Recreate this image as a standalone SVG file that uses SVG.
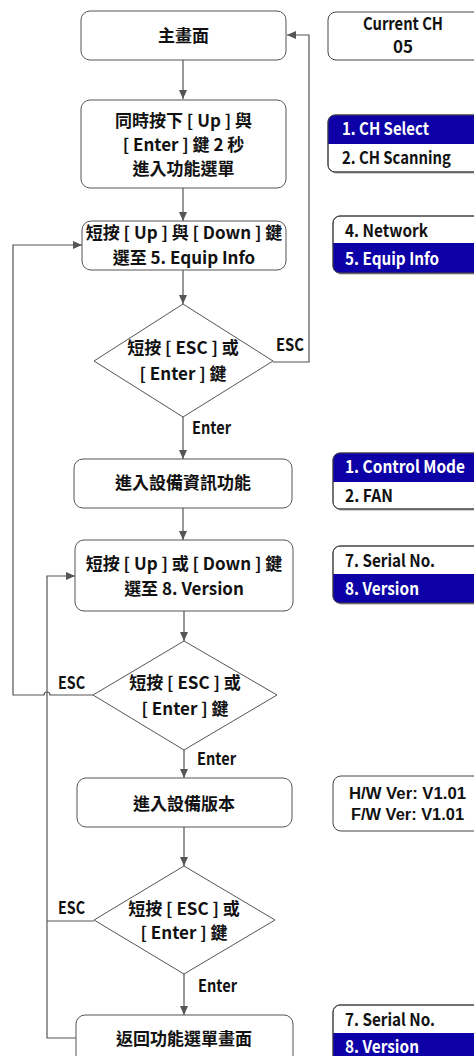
<svg xmlns="http://www.w3.org/2000/svg" width="474" height="1056" viewBox="0 0 474 1056">
<style>
.box{fill:#fff;stroke:#555;stroke-width:1}
.pan{fill:#fff;stroke:#444;stroke-width:1}
.sh{fill:#d0d0d0}
.blue{fill:#0c00a6}
.ln{fill:none;stroke:#555;stroke-width:1.2}
text{font-family:"Noto Sans CJK TC","Liberation Sans",sans-serif;font-weight:bold;font-size:17px;fill:#111}
.c{text-anchor:middle}
.w{fill:#fff}
.ls{font-family:"Liberation Sans",Arial,sans-serif;font-size:16px}
</style>
<defs>
<marker id="ah" markerWidth="10" markerHeight="8" refX="9" refY="4" orient="auto" markerUnits="userSpaceOnUse">
<path d="M0,0 L9,4 L0,8 z" fill="#555"/>
</marker>
<clipPath id="cp1"><rect x="328" y="115" width="170" height="57" rx="7"/></clipPath>
<clipPath id="cp2"><rect x="333" y="216" width="170" height="57" rx="7"/></clipPath>
<clipPath id="cp3"><rect x="333" y="453" width="170" height="56" rx="7"/></clipPath>
<clipPath id="cp4"><rect x="333" y="546" width="170" height="57" rx="7"/></clipPath>
<clipPath id="cp5"><rect x="333" y="1005" width="170" height="70" rx="7"/></clipPath>
</defs>

<g id="connectors">
<path class="ln" d="M183,60 V99" marker-end="url(#ah)"/>
<path class="ln" d="M183,188 V221" marker-end="url(#ah)"/>
<path class="ln" d="M183,270 V304" marker-end="url(#ah)"/>
<path class="ln" d="M273,362 H309 V35 H287" marker-end="url(#ah)"/>
<path class="ln" d="M183,417 V459" marker-end="url(#ah)"/>
<path class="ln" d="M183,508 V540" marker-end="url(#ah)"/>
<path class="ln" d="M184,611 V641" marker-end="url(#ah)"/>
<path class="ln" d="M93,695 H50 A3,3 0 0 0 44,695 H13 V245 H82" marker-end="url(#ah)"/>
<path class="ln" d="M184,750 V778" marker-end="url(#ah)"/>
<path class="ln" d="M184,827 V866" marker-end="url(#ah)"/>
<path class="ln" d="M184,974 V1015" marker-end="url(#ah)"/>
<path class="ln" d="M76,1038 H47 V576 H75" marker-end="url(#ah)"/>
<path class="ln" d="M94,921 H47"/>
<text x="276" y="351" textLength="28" lengthAdjust="spacingAndGlyphs">ESC</text>
<text x="192" y="434" textLength="39" lengthAdjust="spacingAndGlyphs">Enter</text>
<text x="58" y="689" textLength="27" lengthAdjust="spacingAndGlyphs">ESC</text>
<text x="197" y="765" textLength="39" lengthAdjust="spacingAndGlyphs">Enter</text>
<text x="58" y="914" textLength="27" lengthAdjust="spacingAndGlyphs">ESC</text>
<text x="198" y="992" textLength="39" lengthAdjust="spacingAndGlyphs">Enter</text>
</g>

<g id="n_main">
<rect class="box" x="81" y="11" width="205" height="49" rx="9"/>
<text class="c" x="183.5" y="42">主畫面</text>
</g>
<g id="n_enter_menu">
<rect class="box" x="81" y="100" width="205" height="88" rx="9"/>
<text class="c" x="183.5" y="127">同時按下 [ Up ] 與</text>
<text class="c" x="183.5" y="151">[ Enter ] 鍵 2 秒</text>
<text class="c" x="183.5" y="175">進入功能選單</text>
</g>
<g id="n_select5">
<rect class="box" x="82" y="221" width="204" height="49" rx="9"/>
<text class="c" x="184" y="239">短按 [ Up ] 與 [ Down ] 鍵</text>
<text class="c" x="184" y="264">選至 5. Equip Info</text>
</g>
<g id="n_dec1">
<polygon class="box" points="183,304 273,361 183,417 94,361"/>
<text class="c" x="183" y="354">短按 [ ESC ] 或</text>
<text class="c" x="183" y="380">[ Enter ] 鍵</text>
</g>
<g id="n_info">
<rect class="box" x="74" y="459" width="218" height="49" rx="9"/>
<text class="c" x="183" y="489">進入設備資訊功能</text>
</g>
<g id="n_select8">
<rect class="box" x="75" y="540" width="218" height="71" rx="9"/>
<text class="c" x="184" y="570">短按 [ Up ] 或 [ Down ] 鍵</text>
<text class="c" x="184" y="595">選至 8. Version</text>
</g>
<g id="n_dec2">
<polygon class="box" points="184,641 277,695 184,750 93,695"/>
<text class="c" x="185" y="689">短按 [ ESC ] 或</text>
<text class="c" x="185" y="715">[ Enter ] 鍵</text>
</g>
<g id="n_version">
<rect class="box" x="77" y="778" width="215" height="49" rx="9"/>
<text class="c" x="184" y="810">進入設備版本</text>
</g>
<g id="n_dec3">
<polygon class="box" points="184,866 275,920 184,974 94,920"/>
<text class="c" x="184" y="915">短按 [ ESC ] 或</text>
<text class="c" x="184" y="939">[ Enter ] 鍵</text>
</g>
<g id="n_return">
<rect class="box" x="76" y="1015" width="217" height="60" rx="9"/>
<text class="c" x="184" y="1045">返回功能選單畫面</text>
</g>

<g id="p_current">
<rect class="pan" x="328" y="12" width="170" height="48" rx="8"/>
<text x="363" y="30" textLength="80" lengthAdjust="spacingAndGlyphs">Current CH</text>
<text class="c" x="403" y="53">05</text>
</g>
<g id="p_menu1">
<rect class="sh" x="330" y="117" width="170" height="57" rx="7"/>
<rect class="pan" x="328" y="115" width="170" height="57" rx="7"/>
<rect class="blue" x="328" y="115" width="170" height="29" clip-path="url(#cp1)"/>
<rect x="328" y="115" width="170" height="57" rx="7" fill="none" stroke="#444"/>
<text class="w" x="342" y="135" textLength="87" lengthAdjust="spacingAndGlyphs">1. CH Select</text>
<text x="342" y="164" textLength="109" lengthAdjust="spacingAndGlyphs">2. CH Scanning</text>
</g>
<g id="p_menu2">
<rect class="sh" x="335" y="218" width="170" height="57" rx="7"/>
<rect class="pan" x="333" y="216" width="170" height="57" rx="7"/>
<rect class="blue" x="333" y="243" width="170" height="30" clip-path="url(#cp2)"/>
<rect x="333" y="216" width="170" height="57" rx="7" fill="none" stroke="#444"/>
<text x="345" y="237" textLength="83" lengthAdjust="spacingAndGlyphs">4. Network</text>
<text class="w" x="345" y="265" textLength="94" lengthAdjust="spacingAndGlyphs">5. Equip Info</text>
</g>
<g id="p_info1">
<rect class="sh" x="335" y="455" width="170" height="56" rx="7"/>
<rect class="pan" x="333" y="453" width="170" height="56" rx="7"/>
<rect class="blue" x="333" y="453" width="170" height="29" clip-path="url(#cp3)"/>
<rect x="333" y="453" width="170" height="56" rx="7" fill="none" stroke="#444"/>
<text class="w" x="345" y="473" font-size="16" textLength="120" lengthAdjust="spacingAndGlyphs">1. Control Mode</text>
<text x="345" y="502" textLength="48" lengthAdjust="spacingAndGlyphs">2. FAN</text>
</g>
<g id="p_info2">
<rect class="sh" x="335" y="548" width="170" height="57" rx="7"/>
<rect class="pan" x="333" y="546" width="170" height="57" rx="7"/>
<rect class="blue" x="333" y="574" width="170" height="29" clip-path="url(#cp4)"/>
<rect x="333" y="546" width="170" height="57" rx="7" fill="none" stroke="#444"/>
<text x="345" y="567" textLength="90" lengthAdjust="spacingAndGlyphs">7. Serial No.</text>
<text class="w" x="345" y="595" textLength="74" lengthAdjust="spacingAndGlyphs">8. Version</text>
</g>
<g id="p_ver">
<rect class="pan" x="333" y="776" width="170" height="55" rx="8"/>
<text class="ls" x="349" y="799" textLength="117" lengthAdjust="spacingAndGlyphs">H/W Ver: V1.01</text>
<text class="ls" x="351" y="820" textLength="113" lengthAdjust="spacingAndGlyphs">F/W Ver: V1.01</text>
</g>
<g id="p_info3">
<rect class="pan" x="333" y="1005" width="170" height="70" rx="7"/>
<rect class="blue" x="333" y="1033" width="170" height="42" clip-path="url(#cp5)"/>
<rect x="333" y="1005" width="170" height="70" rx="7" fill="none" stroke="#444"/>
<text x="345" y="1026" textLength="90" lengthAdjust="spacingAndGlyphs">7. Serial No.</text>
<text class="w" x="345" y="1053" textLength="74" lengthAdjust="spacingAndGlyphs">8. Version</text>
</g>
</svg>
